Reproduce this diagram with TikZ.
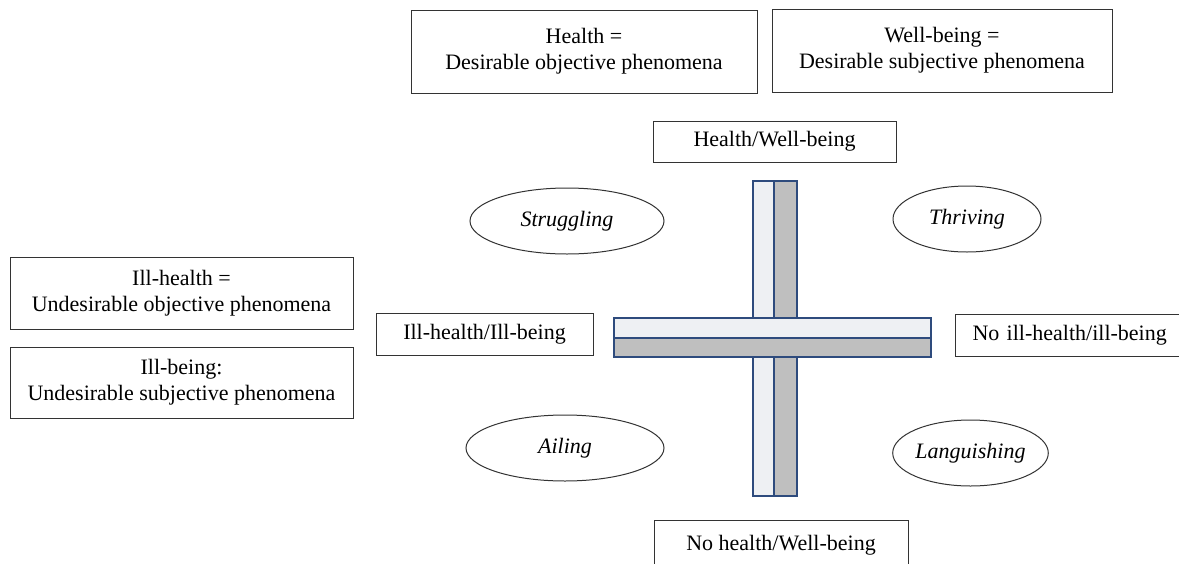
\documentclass[tikz,border=0pt]{standalone}
\usepackage{fontspec}
\setmainfont{Liberation Serif}
\usetikzlibrary{shapes.geometric}
\definecolor{barblue}{HTML}{2E4B7D}
\definecolor{lightbar}{HTML}{EEF0F3}
\definecolor{darkbar}{HTML}{BFBFBF}
\begin{document}
\begin{tikzpicture}[x=1pt,y=-1pt,
  box/.style={draw=black!80, line width=1pt, align=center, inner sep=0pt, font=\fontsize{22}{26}\selectfont},
  oval/.style={ellipse, draw=black!80, line width=1pt, inner sep=0pt, font=\fontsize{22}{26}\selectfont\itshape},
  barlight/.style={fill=lightbar, draw=barblue, line width=2pt},
  bardark/.style={fill=darkbar, draw=barblue, line width=2pt}]
\useasboundingbox (0,0) rectangle (1179,563);
\clip (0,0) rectangle (1179,563);
\fill[white] (0,0) rectangle (1179,563);

\node[box, minimum width=346, minimum height=83] (health) at (584,51.5) {Health =\\Desirable objective phenomena};
\node[box, minimum width=340, minimum height=83] (wellbeing) at (942,50.5) {Well-being =\\Desirable subjective phenomena};
\node[box, minimum width=243, minimum height=41] (hw) at (774.5,141.5) {Health/Well-being};

\node[oval, minimum width=194, minimum height=66] (struggling) at (567,221) {Struggling};
\node[oval, minimum width=148, minimum height=66] (thriving) at (967,219) {Thriving};

\node[box, minimum width=343, minimum height=72] (illhealth) at (181.5,293) {Ill-health =\\Undesirable objective phenomena};
\node[box, minimum width=343, minimum height=71] (illbeing) at (181.5,382.5) {Ill-being:\\Undesirable subjective phenomena};

\node[box, minimum width=217, minimum height=42] (ihib) at (484.5,334) {Ill-health/Ill-being};
\node[box, anchor=west, inner xsep=17pt, text width=206pt, align=left, minimum height=42] (nihib) at (955,335) {No ill-health/ill-being};

\node[oval, minimum width=198, minimum height=66] (ailing) at (565,448) {Ailing};
\node[oval, minimum width=155, minimum height=66] (languishing) at (970.5,453) {Languishing};

\node[box, minimum width=254, minimum height=50] (nhwb) at (781,545) {No health/Well-being};

% cross
\draw[barlight] (752.7,180.7) rectangle (774,496);
\draw[bardark] (774,180.7) rectangle (797.3,496);
\draw[barlight] (614,318) rectangle (930.7,337.7);
\draw[bardark] (614,337.7) rectangle (930.7,356.7);
\end{tikzpicture}
\end{document}
